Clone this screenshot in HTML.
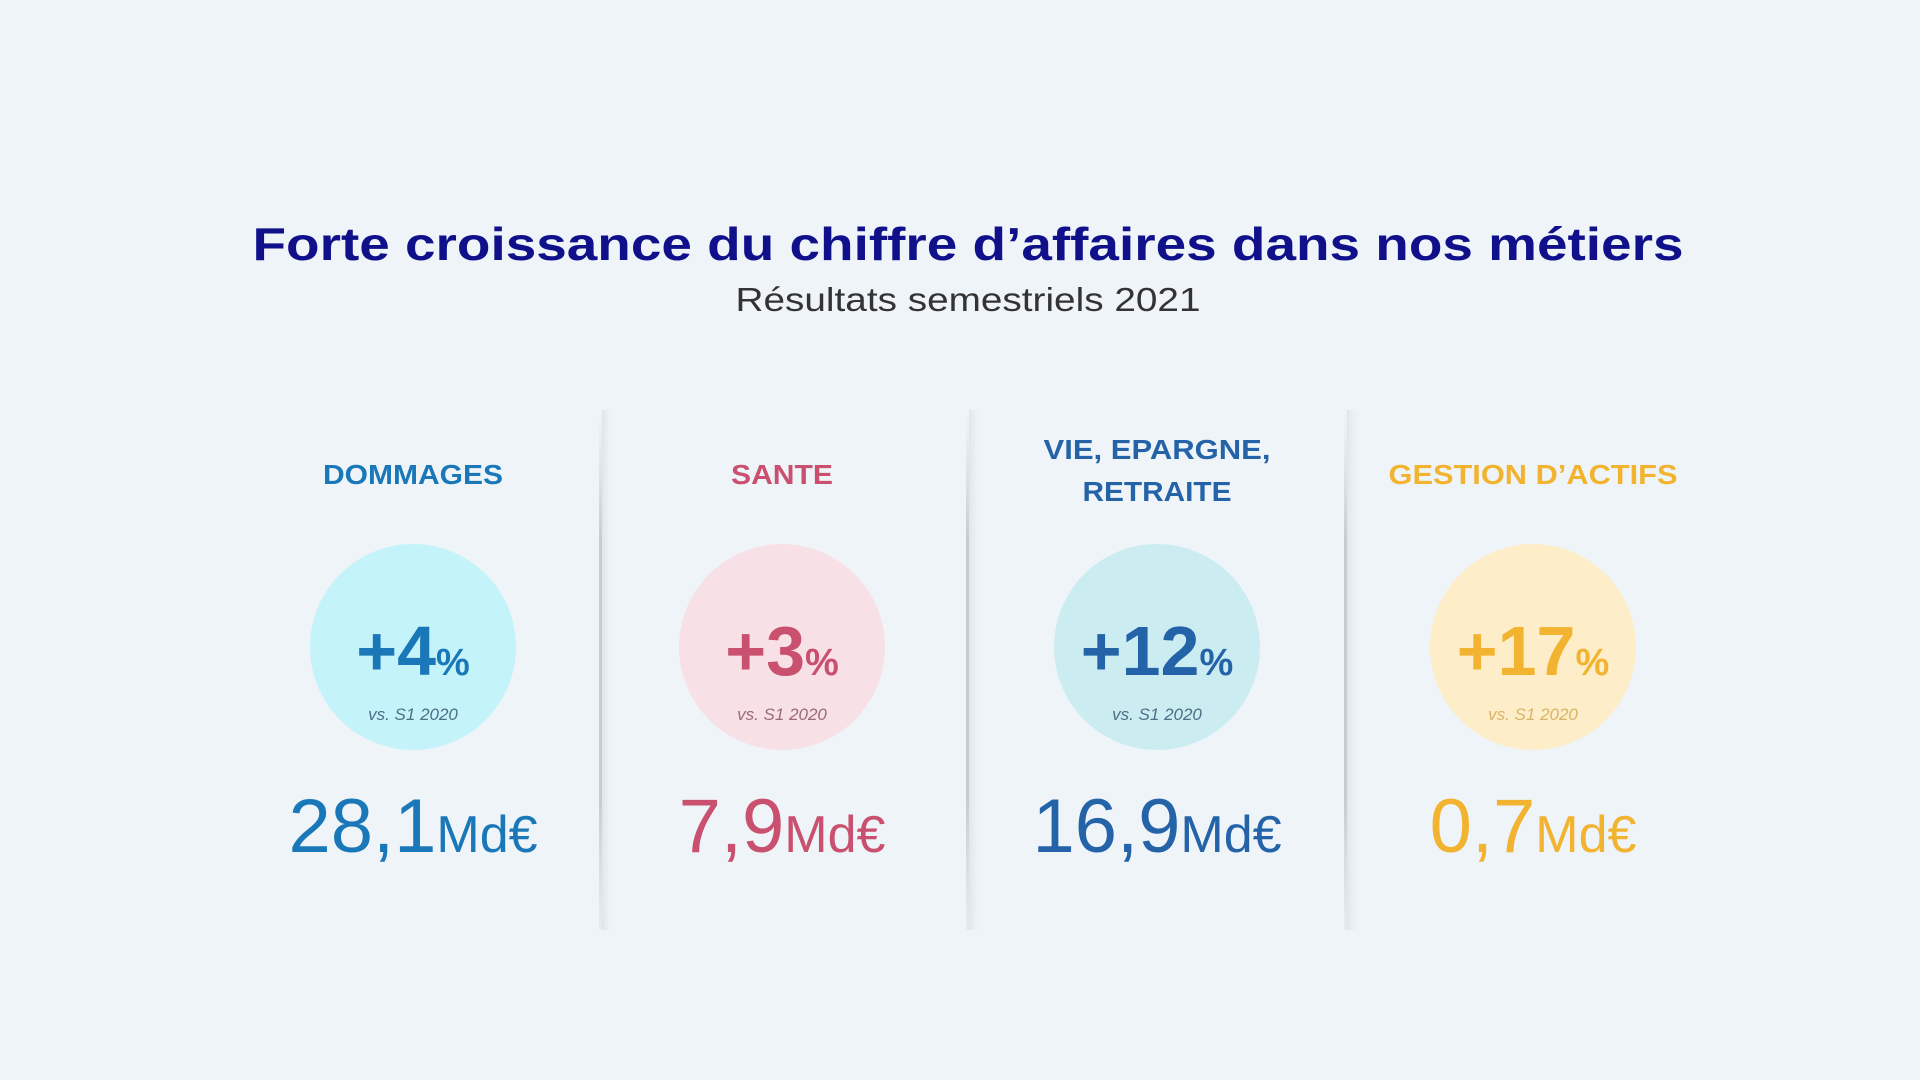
<!DOCTYPE html>
<html><head><meta charset="utf-8"><style>
html,body{margin:0;padding:0;background:#eef4f8;}
svg{display:block;}
</style></head><body>
<svg id="chart" width="1920" height="1080" viewBox="0 0 1920 1080" xmlns="http://www.w3.org/2000/svg">
<defs>
<linearGradient id="divg" x1="0" y1="0" x2="0" y2="1">
<stop offset="0" stop-color="#d2d8de" stop-opacity="0"/>
<stop offset="0.25" stop-color="#c6ccd2"/>
<stop offset="0.75" stop-color="#c6ccd2"/>
<stop offset="1" stop-color="#d2d8de" stop-opacity="0.3"/>
</linearGradient>
<linearGradient id="shg" x1="0" y1="0" x2="1" y2="0">
<stop offset="0" stop-color="#dfe5ea"/>
<stop offset="1" stop-color="#eef4f8" stop-opacity="0"/>
</linearGradient>
</defs>
<rect width="1920" height="1080" fill="#eef4f8"/>
<text x="968" y="260" text-anchor="middle" font-family="Liberation Sans, sans-serif" font-weight="bold" font-size="46" fill="#10108a" textLength="1431" lengthAdjust="spacingAndGlyphs">Forte croissance du chiffre d’affaires dans nos métiers</text>
<text x="968" y="311" text-anchor="middle" font-family="Liberation Sans, sans-serif" font-size="33" fill="#333" textLength="465" lengthAdjust="spacingAndGlyphs">Résultats semestriels 2021</text>
<g id="cols"></g>
</svg>
<script>
const categories = ["DOMMAGES", "SANTE", "VIE, EPARGNE,|RETRAITE", "GESTION D’ACTIFS"];
const growthPct = [4, 3, 12, 17];
const revenueLabels = ["28,1", "7,9", "16,9", "0,7"];
const comparisonLabel = "vs. S1 2020";

const ns = "http://www.w3.org/2000/svg";
const g = document.getElementById("cols");
const centers = [413, 782, 1157, 1533];
const textColors = ["#1a78b8", "#c9506f", "#2463a8", "#f2b430"];
const circleColors = ["#c4f3fa", "#f8e1e6", "#cbedf2", "#fdedc8"];
const vsColors = ["#4d6f85", "#9a6a78", "#4d6f85", "#d9b468"];
const headerWidths = [[180], [102], [227, 149], [289]];
function mk(tag, attrs) { const e = document.createElementNS(ns, tag); for (const k in attrs) e.setAttribute(k, attrs[k]); g.appendChild(e); return e; }

// dividers
[600, 967, 1345].forEach((x, i) => {
  const s = mk("rect", {x: x + 2, y: 410, width: 14, height: 520, fill: "url(#shg)"});
  
  
  const d = mk("rect", {x: x - 1, y: 410, width: 3, height: 520, fill: "url(#divg)"});
  
  
});

categories.forEach((cat, i) => {
  const cx = centers[i];
  const lines = cat.split("|");
  const startY = lines.length === 1 ? 484 : 459;
  lines.forEach((ln, j) => {
    const t = mk("text", {x: cx, y: startY + j * 42, "text-anchor": "middle", "font-family": "Liberation Sans, sans-serif", "font-weight": "bold", "font-size": 28, fill: textColors[i], textLength: headerWidths[i][j], lengthAdjust: "spacingAndGlyphs"});
    t.textContent = ln;
    
    
  });
  const c = mk("circle", {cx: cx, cy: 647, r: 103, fill: circleColors[i]});
  
  
  const p = mk("text", {x: cx, y: 675, "text-anchor": "middle", "font-family": "Liberation Sans, sans-serif", "font-weight": "bold", fill: textColors[i]});
  
  
  const t1 = document.createElementNS(ns, "tspan"); t1.setAttribute("font-size", "70"); t1.textContent = "+" + growthPct[i]; p.appendChild(t1);
  const t2 = document.createElementNS(ns, "tspan"); t2.setAttribute("font-size", "38"); t2.textContent = "%"; p.appendChild(t2);
  const v = mk("text", {x: cx, y: 720, "text-anchor": "middle", "font-family": "Liberation Sans, sans-serif", "font-style": "italic", "font-size": 17, fill: vsColors[i]});
  v.textContent = comparisonLabel;
  
  
  const r = mk("text", {x: cx, y: 852, "text-anchor": "middle", "font-family": "Liberation Sans, sans-serif", fill: textColors[i]});
  
  
  const r1 = document.createElementNS(ns, "tspan"); r1.setAttribute("font-size", "76"); r1.textContent = revenueLabels[i]; r.appendChild(r1);
  const r2 = document.createElementNS(ns, "tspan"); r2.setAttribute("font-size", "52"); r2.textContent = "Md€"; r.appendChild(r2);
});
</script>
</body></html>
